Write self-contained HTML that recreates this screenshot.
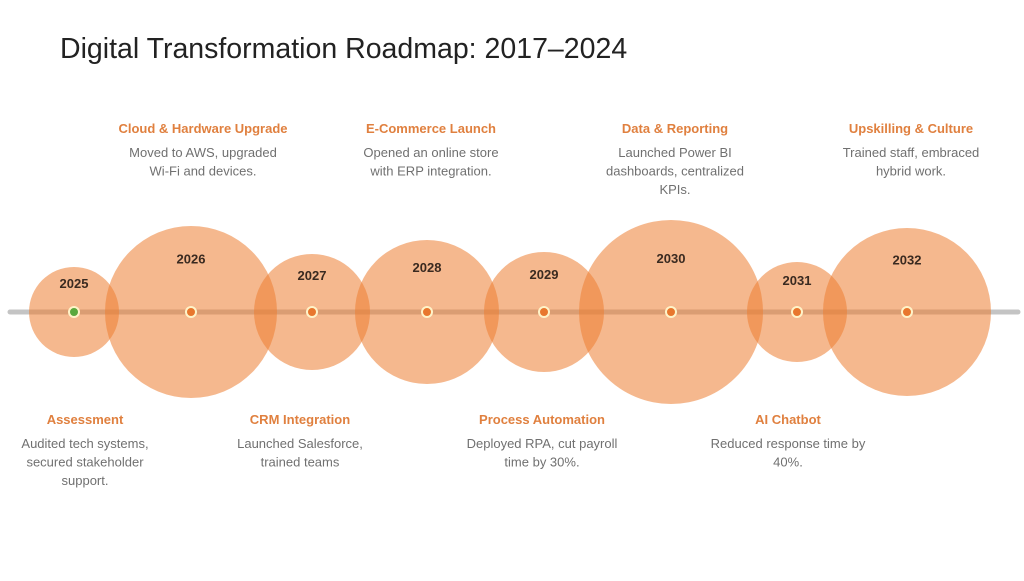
<!DOCTYPE html>
<html><head><meta charset="utf-8"><style>
body{margin:0;background:#fff;}
svg text{font-family:"Liberation Sans",sans-serif;}
</style></head><body>
<svg width="1024" height="576" viewBox="0 0 1024 576" xmlns="http://www.w3.org/2000/svg">
<text x="60" y="58" font-size="28.5" fill="#222">Digital Transformation Roadmap: 2017–2024</text>
<line x1="10" y1="312" x2="1018" y2="312" stroke="#c4c4c4" stroke-width="5" stroke-linecap="round"/>
<g id="bubbles"></g>
<g id="notes"></g>
</svg>
<script>
const years = ["2025","2026","2027","2028","2029","2030","2031","2032"];
const centers = [74,191,312,427,544,671,797,907];
const radii = [45,86,58,72,60,92,50,84];
const titles = ["Assessment","Cloud & Hardware Upgrade","CRM Integration","E-Commerce Launch","Process Automation","Data & Reporting","AI Chatbot","Upskilling & Culture"];
const descs = [["Audited tech systems,","secured stakeholder","support."],["Moved to AWS, upgraded","Wi-Fi and devices."],["Launched Salesforce,","trained teams"],["Opened an online store","with ERP integration."],["Deployed RPA, cut payroll","time by 30%."],["Launched Power BI","dashboards, centralized","KPIs."],["Reduced response time by","40%."],["Trained staff, embraced","hybrid work."]];
const noteX = [85,203,300,431,542,675,788,911];
const NS="http://www.w3.org/2000/svg";
const cy=312;
const bg=document.getElementById('bubbles'), ng=document.getElementById('notes');
function mk(tag,attrs,parent){const e=document.createElementNS(NS,tag);for(const k in attrs)e.setAttribute(k,attrs[k]);parent.appendChild(e);return e;}
years.forEach((y,i)=>{
  const c=mk('circle',{cx:centers[i],cy:cy,r:radii[i],fill:'#ed7d31','fill-opacity':0.55},bg);
  
  
});
years.forEach((y,i)=>{
  const d=mk('circle',{cx:centers[i],cy:cy,r:5,fill:i===0?'#5aa83c':'#e8772e',stroke:'#fff3c8','stroke-width':2},bg);
  
  
  const off=Math.min(0.6*radii[i],52);
  const t=mk('text',{x:centers[i],y:cy-off+3,'text-anchor':'middle','font-size':13,'font-weight':'bold',fill:'#3a2a20'},bg);
  t.textContent=y;
  
  
  const top=i%2===1;
  const ty=top?133:424;
  const tt=mk('text',{x:noteX[i],y:ty,'text-anchor':'middle','font-size':13,'font-weight':'bold',fill:'#e0803f'},ng);
  tt.textContent=titles[i];
  
  
  descs[i].forEach((line,j)=>{
    const dt=mk('text',{x:noteX[i],y:ty+24+j*18.5,'text-anchor':'middle','font-size':13,fill:'#707070'},ng);
    dt.textContent=line;
    
    
  });
});
</script>
</body></html>
